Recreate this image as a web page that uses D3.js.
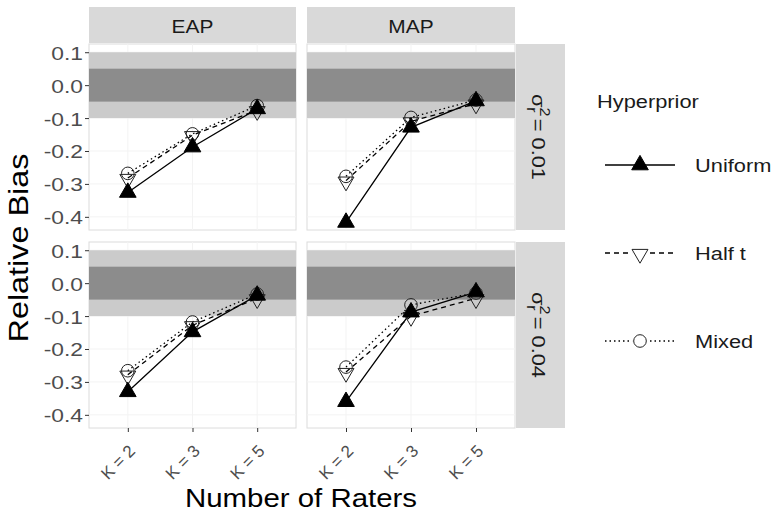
<!DOCTYPE html>
<html><head><meta charset="utf-8">
<script src="https://cdn.jsdelivr.net/npm/d3@7"></script>
<style>body{margin:0;background:#fff;} text{font-family:"Liberation Sans",Arial,sans-serif;}</style>
</head><body><svg id="c" width="774" height="515"></svg>
<script>
const categories = ["K = 2", "K = 3", "K = 5"];
const methods = ["EAP", "MAP"];
const variances = ["0.01", "0.04"];
const hyperpriors = ["Uniform", "Half t", "Mixed"];
const yTicks = [0.1, 0.0, -0.1, -0.2, -0.3, -0.4];
const eap001Uniform = [-0.326, -0.188, -0.072];
const eap001HalfT   = [-0.282, -0.152, -0.076];
const eap001Mixed   = [-0.268, -0.148, -0.062];
const map001Uniform = [-0.417, -0.128, -0.048];
const map001HalfT   = [-0.290, -0.110, -0.056];
const map001Mixed   = [-0.277, -0.098, -0.045];
const eap004Uniform = [-0.330, -0.148, -0.037];
const eap004HalfT   = [-0.278, -0.128, -0.046];
const eap004Mixed   = [-0.266, -0.118, -0.033];
const map004Uniform = [-0.360, -0.088, -0.027];
const map004HalfT   = [-0.270, -0.100, -0.046];
const map004Mixed   = [-0.255, -0.066, -0.030];
const bandOuter = [-0.1, 0.1];
const bandInner = [-0.05, 0.05];

const values = {
  "0.01": {EAP: {"Uniform": eap001Uniform, "Half t": eap001HalfT, "Mixed": eap001Mixed},
           MAP: {"Uniform": map001Uniform, "Half t": map001HalfT, "Mixed": map001Mixed}},
  "0.04": {EAP: {"Uniform": eap004Uniform, "Half t": eap004HalfT, "Mixed": eap004Mixed},
           MAP: {"Uniform": map004Uniform, "Half t": map004HalfT, "Mixed": map004Mixed}}
};

const svg = d3.select("#c");
const colX = [[89, 296], [307, 515]];
const rowY = [[44, 230], [242, 428]];
const stripTop = 7;
const rightStrip = [516, 565];
const dash = {"Uniform": null, "Half t": "5,4", "Mixed": "1.5,3"};

function txt(g, x, y, str, size, opts = {}) {
  const sx = opts.sx || 1.15, rot = opts.rot || 0;
  return g.append("text")
    .attr("transform", `translate(${x},${y}) rotate(${rot}) scale(${sx},1)`)
    .attr("text-anchor", opts.anchor || "start")
    .style("font-size", size + "px")
    .attr("fill", opts.fill || "#1a1a1a")
    .text(str);
}

function drawMarker(g, h, x, y) {
  if (h === "Uniform") {
    g.append("path").attr("d", d3.symbol(d3.symbolTriangle, 120)())
      .attr("transform", `translate(${x},${y})`).attr("fill", "#000").attr("stroke", "#000").attr("stroke-width", 1);
  } else if (h === "Half t") {
    g.append("path").attr("d", d3.symbol(d3.symbolTriangle, 110)())
      .attr("transform", `translate(${x},${y + 1}) rotate(180)`).attr("fill", "none").attr("stroke", "#222").attr("stroke-width", 1);
  } else {
    g.append("path").attr("d", d3.symbol(d3.symbolCircle, 125)())
      .attr("transform", `translate(${x},${y})`).attr("fill", "none").attr("stroke", "#222").attr("stroke-width", 1);
  }
}

variances.forEach((v, ri) => {
  methods.forEach((m, ci) => {
    const [x0, x1] = colX[ci], [y0, y1] = rowY[ri];
    const x = d3.scalePoint().domain(categories).range([x0, x1]).padding(0.6);
    const y = d3.scaleLinear().domain([-0.44, 0.125]).range([y1, y0]);
    const g = svg.append("g");
    g.append("rect").attr("x", x0).attr("y", y0).attr("width", x1 - x0).attr("height", y1 - y0)
      .attr("fill", "#fff").attr("stroke", "#dcdcdc").attr("stroke-width", 1);
    yTicks.forEach(t => g.append("line").attr("x1", x0).attr("x2", x1).attr("y1", y(t)).attr("y2", y(t)).attr("stroke", "#f3f3f3"));
    categories.forEach(c => g.append("line").attr("x1", x(c)).attr("x2", x(c)).attr("y1", y0).attr("y2", y1).attr("stroke", "#f3f3f3"));
    g.append("rect").attr("x", x0).attr("width", x1 - x0).attr("y", y(bandOuter[1])).attr("height", y(bandOuter[0]) - y(bandOuter[1])).attr("fill", "#cbcbcb");
    g.append("rect").attr("x", x0).attr("width", x1 - x0).attr("y", y(bandInner[1])).attr("height", y(bandInner[0]) - y(bandInner[1])).attr("fill", "#8c8c8c");
    if (ci === 0) {
      const ax = g.append("g").attr("transform", `translate(${x0},0)`)
        .call(d3.axisLeft(y).tickValues(yTicks).tickSize(4));
      ax.select(".domain").remove();
      ax.selectAll("line").attr("stroke", "#333");
      ax.selectAll("text").remove();
      ax.selectAll(".tick").each(function(d) {
        txt(d3.select(this), -6, 7, d3.format(".1f")(d).replace("−", "-"), 19, {anchor: "end", fill: "#4d4d4d", sx: 1.2});
      });
    }
    if (ri === 1) {
      const ax = g.append("g").attr("transform", `translate(0,${y1})`)
        .call(d3.axisBottom(x).tickSize(4));
      ax.select(".domain").remove();
      ax.selectAll("line").attr("stroke", "#333");
      ax.selectAll("text").remove();
      ax.selectAll(".tick").each(function(d) {
        txt(d3.select(this), 8, 24, d, 17, {anchor: "end", fill: "#4d4d4d", rot: -45, sx: 1.0});
      });
    }
    if (ri === 0) {
      g.append("rect").attr("x", x0).attr("y", stripTop).attr("width", x1 - x0).attr("height", y0 - 1 - stripTop).attr("fill", "#d9d9d9");
      txt(g, (x0 + x1) / 2, 33, m, 19, {anchor: "middle", sx: 1.1});
    }
    if (ci === 1) {
      g.append("rect").attr("x", rightStrip[0]).attr("y", y0).attr("width", rightStrip[1] - rightStrip[0]).attr("height", y1 - y0).attr("fill", "#d9d9d9");
      const t = txt(g, 532, (y0 + y1) / 2, "", 19, {anchor: "middle", rot: 90, sx: 1.15});
      t.append("tspan").text("σ");
      t.append("tspan").attr("dy", -8).style("font-size", "14px").text("2");
      t.append("tspan").attr("dy", 13).attr("dx", -8).style("font-size", "14px").text("r");
      t.append("tspan").attr("dy", -5).text(" = " + v);
    }
    hyperpriors.slice().reverse().forEach(h => {
      const vals = values[v][m][h];
      const pts = categories.map((c, i) => [x(c), y(vals[i])]);
      g.append("path").attr("d", d3.line()(pts)).attr("fill", "none").attr("stroke", "#000")
        .attr("stroke-width", 1.3).attr("stroke-dasharray", dash[h]);
    });
    hyperpriors.slice().reverse().forEach(h => {
      const vals = values[v][m][h];
      categories.forEach((c, i) => drawMarker(g, h, x(c), y(vals[i])));
    });
  });
});

txt(svg, 301, 507, "Number of Raters", 26.5, {anchor: "middle", fill: "#000", sx: 1.11});
txt(svg, 28, 248, "Relative Bias", 27, {anchor: "middle", fill: "#000", rot: -90, sx: 1.2});

const lg = svg.append("g");
txt(lg, 597, 108, "Hyperprior", 18.5, {sx: 1.18});
const legY = [165, 253, 341];
hyperpriors.forEach((h, i) => {
  lg.append("line").attr("x1", 605).attr("x2", 675).attr("y1", legY[i]).attr("y2", legY[i])
    .attr("stroke", "#000").attr("stroke-width", 1.3).attr("stroke-dasharray", dash[h]);
  if (h !== "Uniform") lg.append("circle").attr("cx", 640).attr("cy", legY[i]).attr("r", 8).attr("fill", "#fff");
  drawMarker(lg, h, 640, legY[i]);
  txt(lg, 695, legY[i] + 7, h, 18.5, {sx: 1.18});
});
</script></body></html>
